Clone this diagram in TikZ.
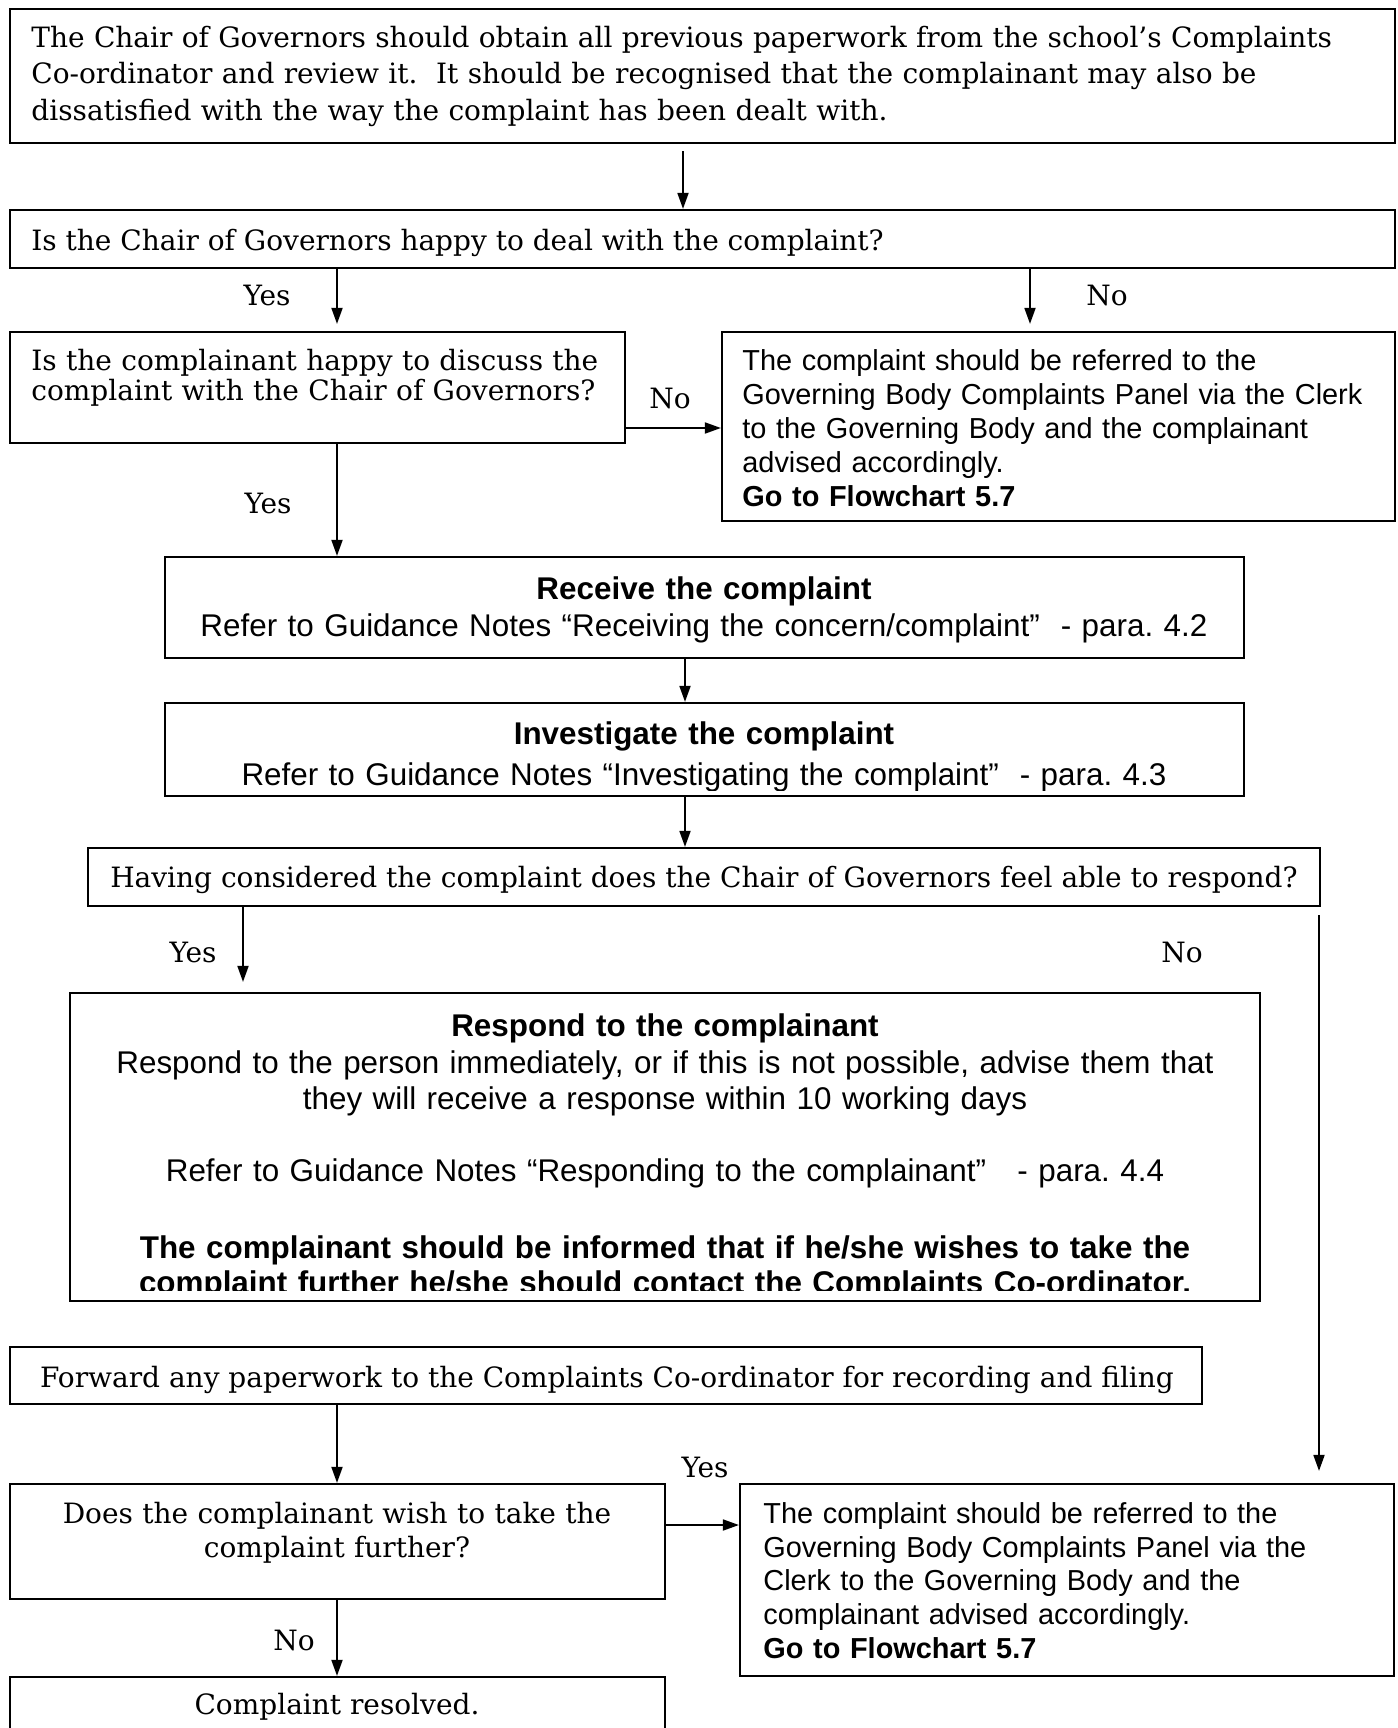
\documentclass[tikz,border=0pt]{standalone}
\usepackage{fontspec}
\setmainfont{DejaVu Serif}
\newfontfamily\arialf{Liberation Sans}
\usetikzlibrary{arrows.meta,fit}
\frenchspacing
\begin{document}
\begin{tikzpicture}[x=0.5pt,y=-0.5pt]
\tikzset{
 box/.style={draw, line width=1.1pt, inner sep=0pt},
 arr/.style={line width=0.9pt, -{Triangle[length=8pt,width=5.5pt]}},
 ser/.style={inner sep=0pt, font=\fontsize{14}{18.2}\selectfont},
 san/.style={inner sep=0pt, font=\arialf\fontsize{14.45}{17}\selectfont},
 sanb/.style={inner sep=0pt, font=\arialf\fontsize{15.7}{18.5}\selectfont},
 lab/.style={ser, anchor=base},
}
\useasboundingbox (0,0) rectangle (1397,1728);
\fill[white] (0,0) rectangle (1397,1728);

% boxes
\node[box, fit={(10,9)(1395,143)}] (b1) {};
\node[box, fit={(10,210)(1395,268)}] (b2) {};
\node[box, fit={(10,332)(625,443)}] (b3) {};
\node[box, fit={(722,332)(1395,521)}] (b4) {};
\node[box, fit={(165,557)(1244,658)}] (b5) {};
\node[box, fit={(165,703)(1244,796)}] (b6) {};
\node[box, fit={(88,848)(1320,906)}] (b7) {};
\node[box, fit={(70,993)(1260,1301)}] (b8) {};
\node[box, fit={(10,1347)(1202,1404)}] (b9) {};
\node[box, fit={(740,1484)(1394,1676)}] (b10) {};
\node[box, fit={(10,1484)(665,1599)}] (b11) {};
\node[box, fit={(10,1677)(665,1780)}] (b12) {};

% texts
\node[ser, anchor=base west, text width=680pt, align=left] (t1) at (31,47.5)
 {The Chair of Governors should obtain all previous paperwork from the school’s Complaints\\
  Co-ordinator and review it.\ \ It should be recognised that the complainant may also be\\
  dissatisfied with the way the complaint has been dealt with.};
\node[ser, anchor=base west] (t2) at (31,250) {Is the Chair of Governors happy to deal with the complaint?};
\node[ser, anchor=base west, text width=300pt, align=left, font=\fontsize{14}{15}\selectfont] (t3) at (31,370)
 {Is the complainant happy to discuss the\\ complaint with the Chair of Governors?};
\node[san, anchor=base west, text width=330pt, align=left] (t4) at (742,370.5)
 {The complaint should be referred to the\\
  Governing Body Complaints Panel via the Clerk\\
  to the Governing Body and the complainant\\
  advised accordingly.\\
  \textbf{Go to Flowchart 5.7}};
\node[sanb, anchor=base, text width=530pt, align=center] (t5) at (704,599)
 {\textbf{Receive the complaint}\\
  Refer to Guidance Notes “Receiving the concern/complaint”\ \ - para. 4.2};
\begin{scope}
\clip (165,703) rectangle (1244,790);
\node[sanb, anchor=base, text width=530pt, align=center, font=\arialf\fontsize{15.7}{20.5}\selectfont] (t6) at (704,744.5)
 {\textbf{Investigate the complaint}\\
  Refer to Guidance Notes “Investigating the complaint”\ \ - para. 4.3};
\end{scope}
\node[ser, anchor=base] (t7) at (704,887) {Having considered the complaint does the Chair of Governors feel able to respond?};
\begin{scope}
\clip (70,993) rectangle (1260,1290);
\node[sanb, anchor=base, text width=590pt, align=center] (t8) at (665,1036)
 {\textbf{Respond to the complainant}\\[0pt]
  Respond to the person immediately, or if this is not possible, advise them that\\[-0.5pt]
  they will receive a response within 10 working days\\[17.5pt]
  Refer to Guidance Notes “Responding to the complainant”\ \ \ - para. 4.4\\[20pt]
  \textbf{The complainant should be informed that if he/she wishes to take the}\\[-1pt]
  \textbf{complaint further he/she should contact the Complaints Co-ordinator.}};
\end{scope}
\node[ser, anchor=base] (t9) at (607,1387) {Forward any paperwork to the Complaints Co-ordinator for recording and filing};
\node[san, anchor=base west, text width=320pt, align=left, font=\arialf\fontsize{14.45}{16.85}\selectfont] (t10) at (763,1523.5)
 {The complaint should be referred to the\\
  Governing Body Complaints Panel via the\\
  Clerk to the Governing Body and the\\
  complainant advised accordingly.\\
  \textbf{Go to Flowchart 5.7}};
\node[ser, anchor=base, text width=320pt, align=center, font=\fontsize{14}{17}\selectfont] (t11) at (337,1523)
 {Does the complainant wish to take the\\ complaint further?};
\node[ser, anchor=base] (t12) at (337,1714) {Complaint resolved.};

% labels
\node[lab] (l1) at (267,305) {Yes};
\node[lab] (l2) at (1107,305) {No};
\node[lab] (l3) at (670,408) {No};
\node[lab] (l4) at (268,513) {Yes};
\node[lab] (l5) at (193,962) {Yes};
\node[lab] (l6) at (1182,962) {No};
\node[lab] (l7) at (705,1477) {Yes};
\node[lab] (l8) at (294,1650) {No};

% x / y guides
\coordinate (xA) at (683,0);
\coordinate (xB) at (337,0);
\coordinate (xC) at (1030,0);
\coordinate (xD) at (685,0);
\coordinate (xE) at (243,0);
\coordinate (xF) at (1319,0);
\coordinate (yG) at (0,428);
\coordinate (yH) at (0,1525);

% connectors
\draw[arr, shorten <=3.5pt] (b1.south -| xA) -- (b2.north -| xA);
\draw[arr, shorten >=3.5pt] (b2.south -| xB) -- (b3.north -| xB);
\draw[arr, shorten >=3.5pt] (b2.south -| xC) -- (b4.north -| xC);
\draw[arr] (b3.east |- yG) -- (b4.west |- yG);
\draw[arr] (b3.south -| xB) -- (b5.north -| xB);
\draw[arr] (b5.south -| xD) -- (b6.north -| xD);
\draw[arr] (b6.south -| xD) -- (b7.north -| xD);
\draw[arr, shorten >=5pt] (b7.south -| xE) -- (b8.north -| xE);
\draw[arr, shorten <=4pt, shorten >=6pt] (b7.south -| xF) -- (b10.north -| xF);
\draw[arr] (b9.south -| xB) -- (b11.north -| xB);
\draw[arr] (b11.east |- yH) -- (b10.west |- yH);
\draw[arr] (b11.south -| xB) -- (b12.north -| xB);
\end{tikzpicture}
\end{document}
